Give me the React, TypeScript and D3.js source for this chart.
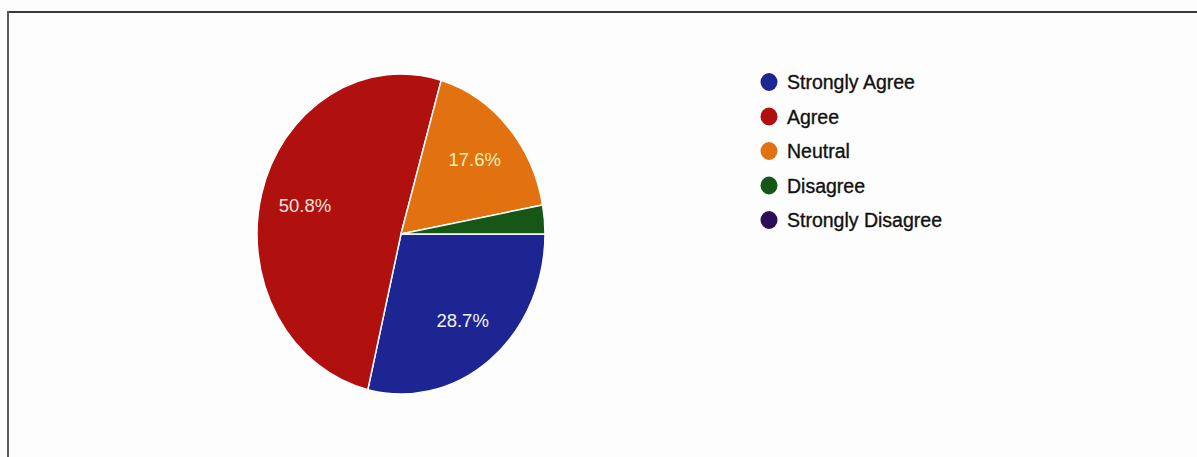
import React from "react";
import * as d3 from "d3";

const categories = ["Strongly Agree", "Agree", "Neutral", "Disagree", "Strongly Disagree"];
const values = [28.7, 50.8, 17.6, 2.9, 0];
const colors = ["#1c2592", "#b0100e", "#e2710f", "#165718", "#2c0f56"];
const labelColors = ["#f4f4ff", "#f6e2dc", "#f6f0b4", "#ffffff", "#ffffff"];

const W = 1197;
const H = 457;

export default function App() {
  const cx = 401;
  const cy = 234;
  const r = 144;
  const sy = 160 / 144;

  const pie = d3
    .pie<number>()
    .sort(null)
    .value((d) => d)
    .startAngle(Math.PI / 2)
    .endAngle(Math.PI / 2 + 2 * Math.PI);
  const arcs = pie(values);
  const arc = d3.arc<d3.PieArcDatum<number>>().innerRadius(0).outerRadius(r);
  const labelArc = d3
    .arc<d3.PieArcDatum<number>>()
    .innerRadius(r * 0.69)
    .outerRadius(r * 0.69);

  const legendY = d3.scalePoint<string>().domain(categories).range([82, 220]);

  return (
    <svg
      width={W}
      height={H}
      style={{ position: "absolute", left: 0, top: 0, background: "#fdfdfd" }}
      fontFamily="'Liberation Sans', Arial, sans-serif"
    >
      <rect x={0} y={0} width={W} height={H} fill="#fdfdfd" />
      <line x1={7} y1={12} x2={W} y2={12} stroke="#3a3a3a" strokeWidth={2} />
      <line x1={8} y1={11} x2={8} y2={H} stroke="#5a5a5a" strokeWidth={2} />

      <g transform={`translate(${cx},${cy}) scale(1,${sy})`}>
        {arcs.map((a, i) =>
          a.endAngle - a.startAngle > 0 ? (
            <path
              key={categories[i]}
              d={arc(a) || ""}
              fill={colors[i]}
              stroke="#ffffff"
              strokeWidth={1.5}
              vectorEffect="non-scaling-stroke"
            />
          ) : null
        )}
      </g>
      <g transform={`translate(${cx},${cy})`}>
        {arcs.map((a, i) => {
          if (values[i] < 5) return null;
          const [lx, ly] = labelArc.centroid(a);
          return (
            <text
              key={categories[i]}
              x={lx}
              y={ly * sy}
              textAnchor="middle"
              dominantBaseline="central"
              fontSize={18.5}
              fill={labelColors[i]}
            >
              {values[i].toFixed(1) + "%"}
            </text>
          );
        })}
      </g>

      <g>
        {categories.map((c, i) => (
          <g key={c} transform={`translate(769,${legendY(c)})`}>
            <ellipse rx={8.5} ry={9} fill={colors[i]} />
            <text
              x={18}
              y={0}
              dominantBaseline="central"
              fontSize={19.5}
              fill="#121212"
              stroke="#121212"
              strokeWidth={0.35}
            >
              {c}
            </text>
          </g>
        ))}
      </g>
    </svg>
  );
}
